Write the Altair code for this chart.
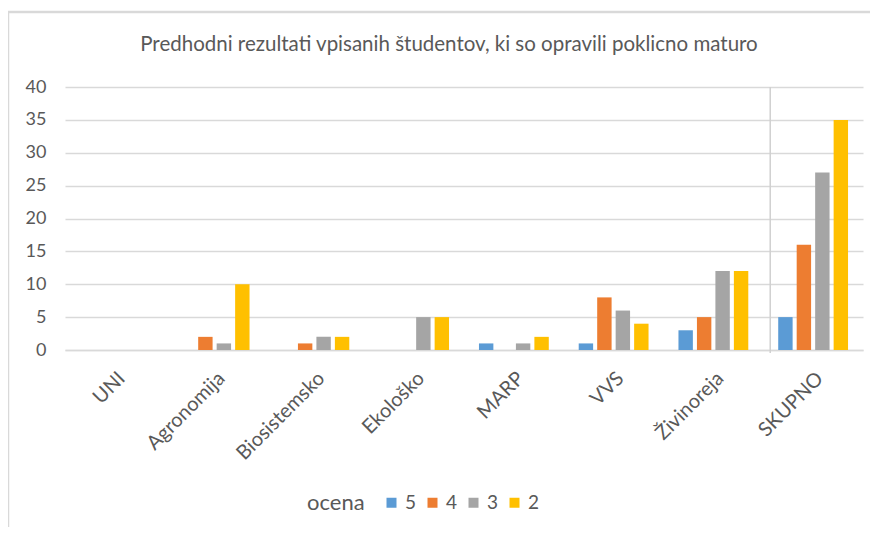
import altair as alt
import pandas as pd

categories = ["UNI", "Agronomija", "Biosistemsko", "Ekološko", "MARP", "VVS", "Živinoreja", "SKUPNO"]
grades = ["5", "4", "3", "2"]
ocena_5 = [0, 0, 0, 0, 1, 1, 3, 5]
ocena_4 = [0, 2, 1, 0, 0, 8, 5, 16]
ocena_3 = [0, 1, 2, 5, 1, 6, 12, 27]
ocena_2 = [0, 10, 2, 5, 2, 4, 12, 35]
colors = ["#5B9BD5", "#ED7D31", "#A5A5A5", "#FFC000"]
title_text = "Predhodni rezultati vpisanih študentov, ki so opravili poklicno maturo"

rows = []
for g, vals in zip(grades, [ocena_5, ocena_4, ocena_3, ocena_2]):
    for c, v in zip(categories, vals):
        rows.append({"kategorija": c, "ocena": g, "vrednost": v})
df = pd.DataFrame(rows)

FONT = "Lato"
GRAY = "#595959"
GRID = "#d9d9d9"

x_enc = alt.X("kategorija:N", sort=categories, title=None,
              scale=alt.Scale(paddingInner=0.3, paddingOuter=0.15),
              axis=alt.Axis(labelAngle=-45, labelFontSize=20, labelColor=GRAY, labelFont=FONT,
                            labelPadding=18, ticks=False, domainColor=GRID, domainWidth=1.5))

bars = alt.Chart(df).mark_bar().encode(
    x=x_enc,
    xOffset=alt.XOffset("ocena:N", sort=grades, scale=alt.Scale(paddingInner=0.22)),
    y=alt.Y("vrednost:Q", title=None,
            scale=alt.Scale(domain=[0, 40]),
            axis=alt.Axis(values=list(range(0, 41, 5)), labelFontSize=18, labelColor=GRAY,
                          labelFont=FONT, labelPadding=19, ticks=False, domain=False,
                          gridColor=GRID, gridWidth=1.5)),
    color=alt.Color("ocena:N", sort=grades, title="ocena",
                    scale=alt.Scale(domain=grades, range=colors),
                    legend=alt.Legend(orient="none", legendX=242, legendY=406, direction="horizontal",
                                      titleOrient="left", titleFontSize=22, titleColor=GRAY,
                                      titleFont=FONT, titleFontWeight="normal", titlePadding=17,
                                      labelFontSize=19, labelColor=GRAY, labelFont=FONT,
                                      symbolType="square", symbolSize=100, symbolStrokeWidth=0,
                                      columnPadding=6, labelOffset=4)),
)

sep_df = pd.DataFrame({"kategorija": ["SKUPNO"], "naslov": [title_text]})
sep = alt.Chart(sep_df).mark_rule(color="#d0d0d0", strokeWidth=1.5, xOffset=-8).encode(
    x=alt.X("kategorija:N", sort=categories, bandPosition=0),
    y=alt.value(0),
    y2=alt.value(266),
)

title = alt.Chart(sep_df).mark_text(fontSize=20.5, color=GRAY, font=FONT, align="center",
                                    baseline="middle").encode(
    text="naslov:N", x=alt.value(384), y=alt.value(-42))

frame_top = alt.Chart(sep_df).mark_rule(color=GRID, strokeWidth=2.5).encode(
    x=alt.value(-57), x2=alt.value(805), y=alt.value(-75))
frame_left = alt.Chart(sep_df).mark_rule(color=GRID, strokeWidth=2.5).encode(
    x=alt.value(-57), y=alt.value(-76), y2=alt.value(460))

chart = alt.layer(bars, sep, title, frame_top, frame_left).properties(
    width=798, height=263,
    padding={"left": 57, "top": 79, "right": 7, "bottom": 177},
    autosize=alt.AutoSizeParams(type="none"),
).configure_view(stroke=None)

chart.save("out.html", embed_options={"renderer": "svg", "actions": False})
